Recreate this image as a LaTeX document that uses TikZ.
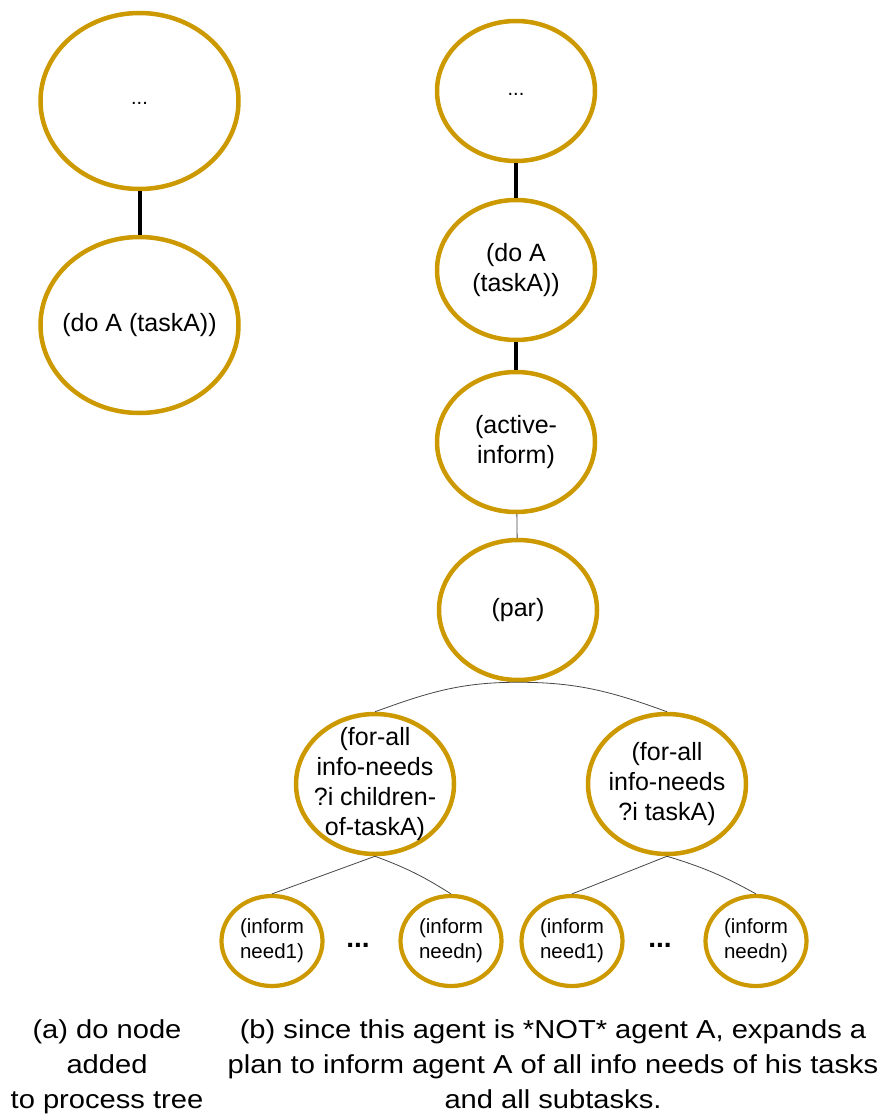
\documentclass[tikz,border=0pt]{standalone}
\usepackage{fontspec}
\setmainfont{Liberation Sans}
\newfontfamily\capfont[FakeStretch=1.12]{Liberation Sans}
\usetikzlibrary{shapes.geometric}
\definecolor{gold}{RGB}{204,153,0}
\definecolor{thinline}{RGB}{70,70,70}
\begin{document}
\begin{tikzpicture}[x=1pt,y=-1pt,
  % negative inner sep lets the minimum size, not the text, fix each ellipse
  treenode/.style={ellipse,draw=gold,line width=4.5pt,inner sep=-45pt,
    align=center,font=\fontsize{25}{30}\selectfont},
  bignode/.style={treenode,minimum width=198pt,minimum height=176pt},
  midnode/.style={treenode,minimum width=158pt,minimum height=140pt},
  leafnode/.style={treenode,line width=4.2pt,minimum width=101pt,minimum height=90pt,
    font=\fontsize{20.5}{25}\selectfont},
  thick link/.style={line width=4pt,black},
  thin link/.style={line width=0.8pt,thinline},
  dotsmark/.style={inner sep=0pt,anchor=base,font=\fontsize{28}{28}\selectfont\bfseries},
  caption/.style={inner sep=0pt,anchor=north,align=center,
    font=\capfont\fontsize{26}{35}\selectfont}]
\useasboundingbox (0,0) rectangle (881,1116);

% (a) the do node added under its parent
\node[bignode] (la) at (139.5,101) {};
\node[inner sep=0pt,font=\fontsize{20}{20}\selectfont] (ladots) at (139.5,103) {...};
\node[bignode] (lb) at (139.5,325) {(do A (taskA))};
\draw[thick link] (la) -- (lb);

% (b) expansion of the inform plan
\node[midnode] (ra) at (516,91) {};
\node[inner sep=0pt,font=\fontsize{20}{20}\selectfont] (radots) at (516,94) {...};
\node[midnode] (rb) at (516,270) {(do A\\(taskA))};
\node[midnode] (rc) at (516,442) {(active-\\inform)};
\node[midnode] (rd) at (518,610) {(par)};
\node[midnode] (fa) at (375,784) {(for-all\\info-needs\\?i children-\\of-taskA)};
\node[midnode] (fb) at (667,784) {(for-all\\info-needs\\?i taskA)};

\node[leafnode] (a1) at (272,941) {(inform\\need1)};
\node[leafnode] (an) at (451,941) {(inform\\needn)};
\node[leafnode] (b1) at (572,941) {(inform\\need1)};
\node[leafnode] (bn) at (756,941) {(inform\\needn)};
\node[dotsmark] (adots) at (358,947) {...};
\node[dotsmark] (bdots) at (660,947) {...};

\draw[thick link] (ra) -- (rb);
\draw[thick link] (rb) -- (rc);
\draw[thin link] (rc) -- (rd);
\draw[thin link] (rd.south) to[out=180,in=20] (fa.north);
\draw[thin link] (rd.south) to[out=0,in=160] (fb.north);
\draw[thin link] (fa.south) -- (a1.north);
\draw[thin link] (fa.south) to[bend left=6] (an.north);
\draw[thin link] (fb.south) -- (b1.north);
\draw[thin link] (fb.south) to[bend left=6] (bn.north);

% captions
\node[caption] (capa) at (107,1019) {(a) do node\\added\\to process tree};
\node[caption] (capb) at (553,1019) {(b) since this agent is *NOT* agent A, expands a\\plan to inform agent A of all info needs of his tasks\\and all subtasks.};
\end{tikzpicture}
\end{document}
